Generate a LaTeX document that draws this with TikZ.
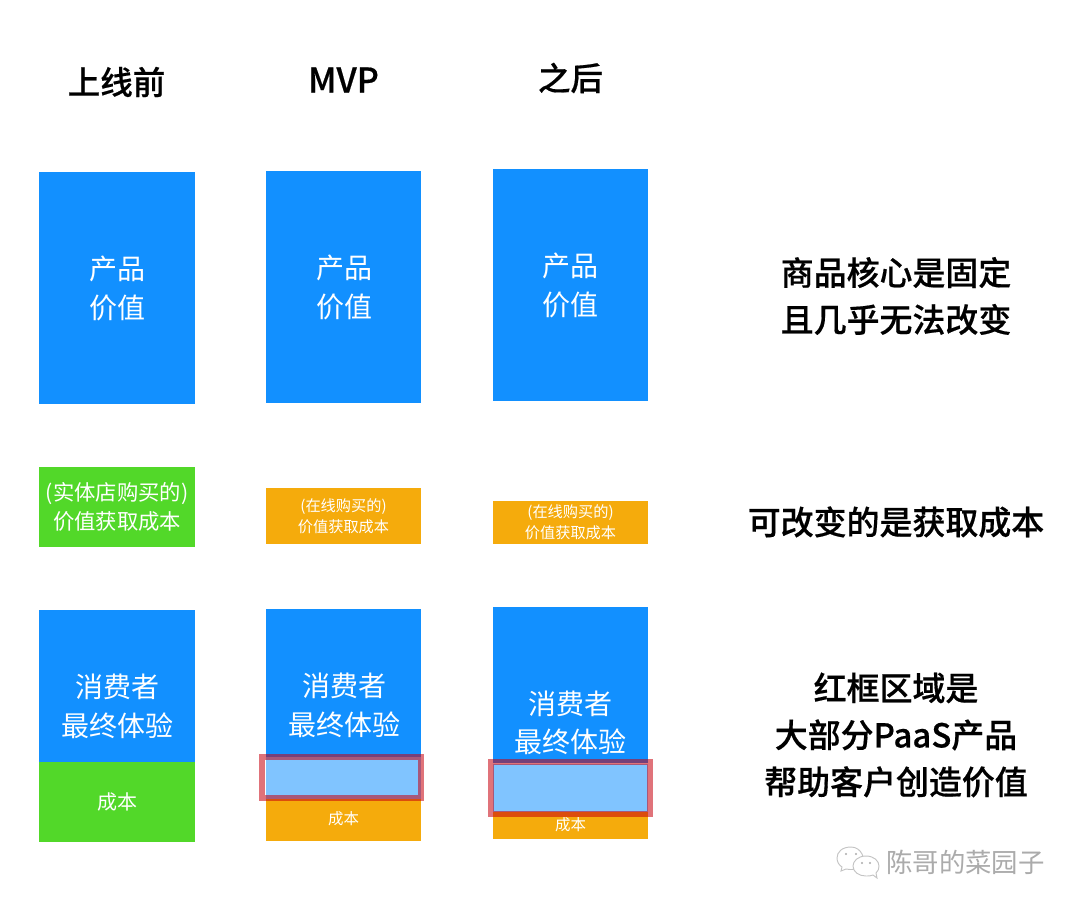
\documentclass[tikz,border=0pt]{standalone}
\usepackage{fontspec}
\setmainfont[BoldFont={Noto Sans CJK SC Medium},BoldFeatures={FakeBold=0.5}]{Noto Sans CJK SC}
\definecolor{bluebox}{HTML}{1290FF}
\definecolor{lightblue}{HTML}{80C4FF}
\definecolor{greenbox}{HTML}{52D829}
\definecolor{orangebox}{HTML}{F5AB0C}
\definecolor{redframe}{HTML}{C8000D}
\definecolor{wm}{HTML}{ABABAB}
\newcommand{\fs}[2]{\fontsize{#1}{#2}\selectfont}
\tikzset{
  box/.style={inner sep=0pt,outer sep=0pt,minimum width=116.25pt,text=white,align=center},
  lbl/.style={inner sep=0pt,text=white,align=center},
  title/.style={inner sep=0pt,text=black,align=center,font=\bfseries\fs{24.4}{30}},
  note/.style={inner sep=0pt,text=black,align=center,font=\bfseries\fs{24.7}{35.2}},
  big/.style={font=\fs{21}{28.8}},
  frame/.style={draw=redframe,draw opacity=.55,line width=4.5pt,fill=none},
  wmline/.style={draw=wm!70,line width=.7pt,fill=white}
}
\begin{document}
\begin{tikzpicture}[x=.75pt,y=-.75pt]
\path[fill=white] (0,0) rectangle (1080,910);
\useasboundingbox (0,0) rectangle (1080,910);

% titles
\node[title] (t1) at (116.5,82) {上线前};
\node[title,font=\bfseries\fs{25.6}{30}] (t2) at (343.5,80) {MVP};
\node[title] (t3) at (570.5,78) {之后};

% product value
\node[box,fill=bluebox,minimum width=117pt,minimum height=174pt] (p1) at (117,288) {};
\node[box,fill=bluebox,minimum height=174pt] (p2) at (343.5,287) {};
\node[box,fill=bluebox,minimum height=174pt] (p3) at (570.5,285) {};
\node[lbl,big] (v1) at (117,288.5) {产品\\价值};
\node[lbl,big] (v2) at (344,287.5) {产品\\价值};
\node[lbl,big] (v3) at (570.5,285.5) {产品\\价值};

% acquisition cost
\node[box,fill=greenbox,minimum width=117pt,minimum height=60pt,font=\fs{16}{22}] (a1) at (117,507) {(实体店购买的)\\价值获取成本};
\node[box,fill=orangebox,minimum height=42pt,font=\fs{11.4}{15.5}] (a2) at (343.5,516) {(在线购买的)\\价值获取成本};
\node[box,fill=orangebox,minimum height=32.25pt,font=\fs{11.4}{15.5}] (a3) at (570.5,522.5) {(在线购买的)\\价值获取成本};

% experience columns
\node[box,fill=bluebox,minimum width=117pt,minimum height=114pt] (e1) at (117,686) {};
\node[box,fill=greenbox,minimum width=117pt,minimum height=60pt,font=\fs{15}{18}] (c1) at (117,802) {成本};
\node[box,fill=bluebox,minimum height=111pt] (e2) at (343.5,683) {};
\node[box,fill=orangebox,minimum height=33pt,font=\fs{11.6}{14}] (c2) at (343.5,819) {成本};
\node[box,fill=bluebox,minimum height=117pt] (e3) at (570.5,685) {};
\node[box,fill=orangebox,minimum height=20.25pt,font=\fs{11.6}{14}] (c3) at (570.5,825) {成本};

\node[lbl,big] (x1) at (117,706.5) {消费者\\最终体验};
\node[lbl,big] (x2) at (344,705.5) {消费者\\最终体验};
\node[lbl,big] (x3) at (570.5,723) {消费者\\最终体验};

% highlighted region
\node[box,fill=lightblue,minimum height=31.5pt] (h2) at (343.5,778) {};
\node[box,fill=lightblue,minimum height=36pt] (h3) at (570.5,788) {};
\draw[frame] (262,757) rectangle (421,798);
\draw[frame] (491,762) rectangle (650,814);

% notes
\node[note] (n1) at (896,296) {商品核心是固定\\且几乎无法改变};
\node[note] (n2) at (896,522) {可改变的是获取成本};
\node[note] (n3) at (896,735) {红框区域是\\大部分PaaS产品\\帮助客户创造价值};

% watermark
\draw[wmline] (851,847) .. controls (842,847) and (837,852) .. (837,858)
  .. controls (837,862) and (839,865) .. (842,867) -- (841,871) -- (846,869)
  .. controls (851,870) and (858,870) .. (862,866)
  .. controls (866,860) and (862,847) .. (851,847) -- cycle;
\draw[wmline] (866,856) .. controls (858,856) and (853,861) .. (853,866)
  .. controls (853,872) and (859,876) .. (866,876)
  .. controls (869,876) and (871,876) .. (873,875) -- (877,878) -- (876,873)
  .. controls (878,871) and (879,869) .. (879,866)
  .. controls (879,861) and (874,856) .. (866,856) -- cycle;
\fill[wm] (846,854) circle (1.1) (856,854) circle (1.1) (862,863) circle (1.1) (870,863) circle (1.1);
\node[inner sep=0pt,text=wm,font=\fs{19.8}{24}] (w) at (965.5,862) {陈哥的菜园子};
\end{tikzpicture}
\end{document}
